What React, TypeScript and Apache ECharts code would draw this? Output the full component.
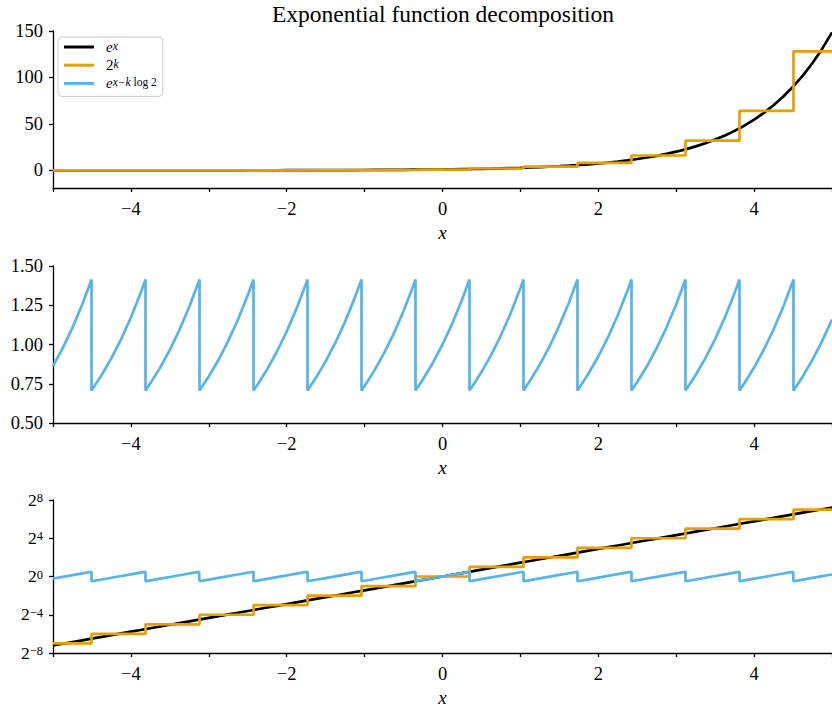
import React, { useEffect, useRef } from 'react';
import * as echarts from 'echarts';

// sample positions on x (every 0.125) and the value of e^x read at each of them
const gridX = [
  -5, -4.875, -4.75, -4.625, -4.5, -4.375, -4.25, -4.125, -4, -3.875, -3.75, -3.625, -3.5, -3.375, -3.25, -3.125,
  -3, -2.875, -2.75, -2.625, -2.5, -2.375, -2.25, -2.125, -2, -1.875, -1.75, -1.625, -1.5, -1.375, -1.25, -1.125,
  -1, -0.875, -0.75, -0.625, -0.5, -0.375, -0.25, -0.125, 0, 0.125, 0.25, 0.375, 0.5, 0.625, 0.75, 0.875,
  1, 1.125, 1.25, 1.375, 1.5, 1.625, 1.75, 1.875, 2, 2.125, 2.25, 2.375, 2.5, 2.625, 2.75, 2.875,
  3, 3.125, 3.25, 3.375, 3.5, 3.625, 3.75, 3.875, 4, 4.125, 4.25, 4.375, 4.5, 4.625, 4.75, 4.875, 5,
];
const gridExp = [
  0.006738, 0.007635, 0.008652, 0.009804, 0.011109, 0.012588, 0.014264, 0.016163,
  0.018316, 0.020755, 0.023518, 0.026649, 0.030197, 0.034218, 0.038774, 0.043937,
  0.049787, 0.056416, 0.063928, 0.07244, 0.082085, 0.093014, 0.105399, 0.119433,
  0.135335, 0.153355, 0.173774, 0.196912, 0.22313, 0.25284, 0.286505, 0.324652,
  0.367879, 0.416862, 0.472367, 0.535261, 0.606531, 0.687289, 0.778801, 0.882497,
  1, 1.133148, 1.284025, 1.454991, 1.648721, 1.868246, 2.117, 2.398875,
  2.718282, 3.080217, 3.490343, 3.955077, 4.481689, 5.078419, 5.754603, 6.520819,
  7.389056, 8.372897, 9.487736, 10.751013, 12.182494, 13.804574, 15.642632, 17.725424,
  20.085537, 22.759895, 25.79034, 29.224282, 33.115452, 37.524723, 42.521082, 48.182771,
  54.59815, 61.867809, 70.105412, 79.440432, 90.017131, 102.003, 115.584285, 130.9742,
  148.413159,
];
// x positions where the power of two jumps, and e^x there
const edgeX = [
  -4.505456, -3.812309, -3.119162, -2.426015, -1.732868, -1.039721, -0.346574,
  0.346574, 1.039721, 1.732868, 2.426015, 3.119162, 3.812309, 4.505456,
];
const edgeExp = [
  0.011049, 0.022097, 0.044194, 0.088388, 0.176777, 0.353553, 0.707107,
  1.414214, 2.828427, 5.656854, 11.313708, 22.627417, 45.254834, 90.509668,
];
// 2^k on each step, k = -7 .. 7
const stepValues = [
  0.0078125, 0.015625, 0.03125, 0.0625, 0.125, 0.25, 0.5, 1, 2, 4, 8, 16, 32, 64, 128,
];

const xLabelValues = [-4, -2, 0, 2, 4];
const linTickValues = [0, 50, 100, 150];
const logTickValues = [0.00390625, 0.0625, 1, 16, 256];
const logTickExps = ['−8', '−4', '0', '4', '8'];

const FONT = "'Liberation Serif', 'DejaVu Serif', serif";
const BLACK = '#000000';
const ORANGE = '#E69F00';
const BLUE = '#56B4E9';
const TICK_FS = 18.5;

function buildData() {
  const pts: [number, number][] = [];
  gridX.forEach((x, i) => pts.push([x, gridExp[i]]));
  edgeX.forEach((x, i) => pts.push([x, edgeExp[i]]));
  pts.sort((a, b) => a[0] - b[0]);
  const bounds = [gridX[0], ...edgeX, gridX[gridX.length - 1]];
  const step: [number, number][] = [];
  const ratio: [number, number][] = [];
  for (let i = 0; i < stepValues.length; i++) {
    const lo = bounds[i];
    const hi = bounds[i + 1];
    step.push([lo, stepValues[i]], [hi, stepValues[i]]);
    pts.forEach(([x, y]) => {
      if (x >= lo - 1e-9 && x <= hi + 1e-9) ratio.push([x, y / stepValues[i]]);
    });
  }
  return { exp: pts, step, ratio };
}

const minus = (v: number) => (v < 0 ? '−' + String(-v) : String(v));

export default function App() {
  const ref = useRef<HTMLDivElement>(null);
  useEffect(() => {
    if (!ref.current) return;
    const chart = echarts.init(ref.current, null, { renderer: 'svg' });
    const { exp, step, ratio } = buildData();
    const tops = [31, 266, 500];
    const H = 157;
    const tickStyle = { show: true, length: 4, lineStyle: { color: BLACK, width: 1.3 } };
    const lineStyleAx = { show: true, onZero: false, lineStyle: { color: BLACK, width: 1.3 } };
    const xAxes = tops.map((_, i) => ({
      type: 'value',
      gridIndex: i,
      min: -5,
      max: 5,
      interval: 1,
      axisLine: lineStyleAx,
      axisTick: tickStyle,
      splitLine: { show: false },
      axisLabel: {
        customValues: xLabelValues,
        formatter: (v: number) => minus(v),
        color: BLACK,
        fontFamily: FONT,
        fontSize: TICK_FS,
        margin: 11,
      },
      name: 'x',
      nameLocation: 'middle',
      nameGap: 35,
      nameTextStyle: { color: BLACK, fontFamily: FONT, fontSize: 19, fontStyle: 'italic' },
    }));
    const labelBase = { color: BLACK, fontFamily: FONT, fontSize: TICK_FS, margin: 10 };
    const yAxes: any[] = [
      {
        type: 'value',
        gridIndex: 0,
        min: -19,
        max: 150,
        axisLine: lineStyleAx,
        axisTick: { ...tickStyle, customValues: linTickValues },
        splitLine: { show: false },
        axisLabel: { ...labelBase, customValues: linTickValues },
      },
      {
        type: 'value',
        gridIndex: 1,
        min: 0.5,
        max: 1.5,
        interval: 0.25,
        axisLine: lineStyleAx,
        axisTick: tickStyle,
        splitLine: { show: false },
        axisLabel: { ...labelBase, formatter: (v: number) => v.toFixed(2) },
      },
      {
        type: 'log',
        logBase: 2,
        gridIndex: 2,
        min: logTickValues[0],
        max: logTickValues[logTickValues.length - 1],
        axisLine: lineStyleAx,
        axisTick: { ...tickStyle, customValues: logTickValues },
        splitLine: { show: false },
        minorTick: { show: false },
        axisLabel: {
          ...labelBase,
          customValues: logTickValues,
          formatter: (v: number) => {
            let idx = 0;
            let best = Infinity;
            logTickValues.forEach((t, i) => {
              const d = Math.abs(t - v) / t;
              if (d < best) { best = d; idx = i; }
            });
            return `{b|2}{s|${logTickExps[idx]}}`;
          },
          rich: {
            b: { fontSize: 17.5, fontFamily: FONT, color: BLACK, verticalAlign: 'bottom', lineHeight: 17 },
            s: { fontSize: 12.5, fontFamily: FONT, color: BLACK, verticalAlign: 'top', lineHeight: 12, padding: [0, 0, 8, 0] },
          },
        },
      },
    ];
    const line = (name: string, data: any, color: string, gi: number) => ({
      type: 'line',
      name,
      data,
      xAxisIndex: gi,
      yAxisIndex: gi,
      showSymbol: false,
      symbol: 'none',
      silent: true,
      lineStyle: { color, width: 2.7 },
      itemStyle: { color },
      clip: true,
    });
    const legendRich = {
      e: { fontFamily: FONT, fontSize: 15, fontStyle: 'italic', color: BLACK, verticalAlign: 'bottom', lineHeight: 14, padding: [0, 0, 0, 7] },
      n: { fontFamily: FONT, fontSize: 15, color: BLACK, verticalAlign: 'bottom', lineHeight: 14, padding: [0, 0, 0, 7] },
      si: { fontFamily: FONT, fontSize: 11.5, fontStyle: 'italic', color: BLACK, verticalAlign: 'top', lineHeight: 10, padding: [0, 0, 6, 0] },
      sr: { fontFamily: FONT, fontSize: 11.5, color: BLACK, verticalAlign: 'top', lineHeight: 10, padding: [0, 0, 6, 0] },
    };
    chart.setOption({
      animation: false,
      backgroundColor: '#ffffff',
      textStyle: { fontFamily: FONT, color: BLACK },
      title: {
        text: 'Exponential function decomposition',
        left: 438,
        top: -3,
        textAlign: 'center',
        textStyle: { fontFamily: FONT, fontSize: 23.5, fontWeight: 'normal', color: BLACK },
      },
      legend: {
        orient: 'vertical',
        left: 58,
        top: 37,
        data: ['exp', 'pow', 'ratio'],
        icon: 'rect',
        itemWidth: 30,
        itemHeight: 3,
        itemGap: -0.8,
        padding: [2, 6, 2, 6],
        borderColor: '#cccccc',
        borderWidth: 1,
        borderRadius: 4,
        backgroundColor: 'rgba(255,255,255,0.8)',
        selectedMode: false,
        formatter: (name: string) => {
          if (name === 'exp') return '{e|e}{si|x}';
          if (name === 'pow') return '{n|2}{si|k}';
          return '{e|e}{si|x−k}{sr| log 2}';
        },
        textStyle: { rich: legendRich, fontFamily: FONT, fontSize: 15 },
      },
      grid: tops.map((t) => ({ left: 53, right: 0, top: t, height: H, containLabel: false })),
      xAxis: xAxes,
      yAxis: yAxes,
      series: [
        line('exp', exp, BLACK, 0),
        line('pow', step, ORANGE, 0),
        line('ratio', ratio, BLUE, 1),
        line('exp', exp, BLACK, 2),
        line('pow', step, ORANGE, 2),
        line('ratio', ratio, BLUE, 2),
      ],
    });
    return () => chart.dispose();
  }, []);
  return (
    <div
      ref={ref}
      style={{ position: 'fixed', left: 0, top: 0, width: 832, height: 708, background: '#fff' }}
    />
  );
}
